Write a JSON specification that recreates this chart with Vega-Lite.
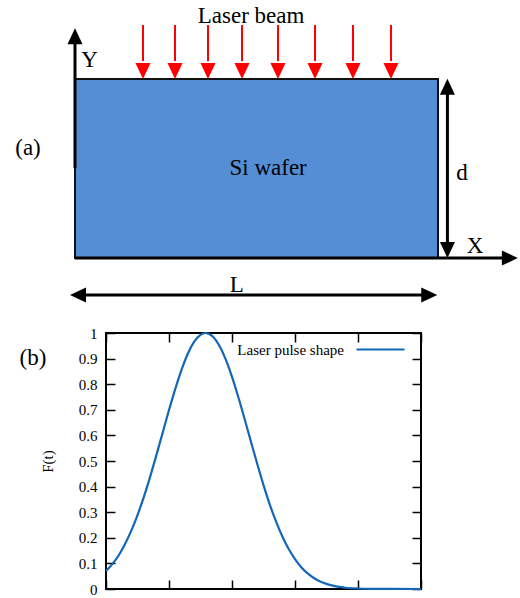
{
  "$schema": "https://vega.github.io/schema/vega-lite/v6.json",
  "width": 315,
  "height": 256,
  "autosize": {"type": "none"},
  "padding": {"left": 106, "top": 333, "right": 99, "bottom": 9},
  "background": "white",
  "config": {"font": "Liberation Serif, Times New Roman, serif", "view": {"stroke": "black", "strokeWidth": 2}},
  "datasets": {
    "wafer": [{"x0": 0, "x1": 10, "y0": 0, "y1": 5}],
    "blacklines": [
      {"x0": 0, "x1": 0, "y0": 2.51, "y1": 6.01},
      {"x0": 0, "x1": 11.85, "y0": 0, "y1": 0},
      {"x0": 10.26, "x1": 10.26, "y0": 0.36, "y1": 4.64},
      {"x0": 0.25, "x1": 9.61, "y0": -1.034, "y1": -1.034}
    ],
    "blackheads": [
      {"x": 0, "y": 6.42, "dir": "up"},
      {"x": 12.2, "y": 0, "dir": "right"},
      {"x": 10.26, "y": 5.01, "dir": "up"},
      {"x": 10.26, "y": 0, "dir": "down"},
      {"x": -0.138, "y": -1.034, "dir": "left"},
      {"x": 9.98, "y": -1.034, "dir": "right"}
    ],
    "redlines": [
      {"x": 1.873, "y0": 6.508, "y1": 5.5},
      {"x": 2.755, "y0": 6.508, "y1": 5.5},
      {"x": 3.664, "y0": 6.508, "y1": 5.5},
      {"x": 4.601, "y0": 6.508, "y1": 5.5},
      {"x": 5.592, "y0": 6.508, "y1": 5.5},
      {"x": 6.612, "y0": 6.508, "y1": 5.5},
      {"x": 7.658, "y0": 6.508, "y1": 5.5},
      {"x": 8.705, "y0": 6.508, "y1": 5.5}
    ],
    "redheads": [
      {"x": 1.873, "y": 5.0, "dir": "down"},
      {"x": 2.755, "y": 5.0, "dir": "down"},
      {"x": 3.664, "y": 5.0, "dir": "down"},
      {"x": 4.601, "y": 5.0, "dir": "down"},
      {"x": 5.592, "y": 5.0, "dir": "down"},
      {"x": 6.612, "y": 5.0, "dir": "down"},
      {"x": 7.658, "y": 5.0, "dir": "down"},
      {"x": 8.705, "y": 5.0, "dir": "down"}
    ],
    "labels": [
      {"label": "Laser beam", "x": 4.85, "y": 6.56},
      {"label": "Y", "x": 0.40, "y": 5.34},
      {"label": "(a)", "x": -1.295, "y": 2.88},
      {"label": "Si wafer", "x": 5.32, "y": 2.32},
      {"label": "d", "x": 10.66, "y": 2.18},
      {"label": "X", "x": 11.02, "y": 0.15},
      {"label": "L", "x": 4.46, "y": -0.95},
      {"label": "(b)", "x": -1.157, "y": -2.99}
    ],
    "pulse": [
      {"t": 0, "F": 0.070, "series": "Laser pulse shape"},
      {"t": 0.1, "F": 0.097, "series": "Laser pulse shape"},
      {"t": 0.2, "F": 0.131, "series": "Laser pulse shape"},
      {"t": 0.3, "F": 0.175, "series": "Laser pulse shape"},
      {"t": 0.4, "F": 0.227, "series": "Laser pulse shape"},
      {"t": 0.5, "F": 0.289, "series": "Laser pulse shape"},
      {"t": 0.6, "F": 0.359, "series": "Laser pulse shape"},
      {"t": 0.7, "F": 0.438, "series": "Laser pulse shape"},
      {"t": 0.8, "F": 0.523, "series": "Laser pulse shape"},
      {"t": 0.9, "F": 0.611, "series": "Laser pulse shape"},
      {"t": 1.0, "F": 0.699, "series": "Laser pulse shape"},
      {"t": 1.1, "F": 0.782, "series": "Laser pulse shape"},
      {"t": 1.2, "F": 0.857, "series": "Laser pulse shape"},
      {"t": 1.3, "F": 0.920, "series": "Laser pulse shape"},
      {"t": 1.4, "F": 0.966, "series": "Laser pulse shape"},
      {"t": 1.5, "F": 0.993, "series": "Laser pulse shape"},
      {"t": 1.58, "F": 1.0, "series": "Laser pulse shape"},
      {"t": 1.7, "F": 0.985, "series": "Laser pulse shape"},
      {"t": 1.8, "F": 0.950, "series": "Laser pulse shape"},
      {"t": 1.9, "F": 0.897, "series": "Laser pulse shape"},
      {"t": 2.0, "F": 0.829, "series": "Laser pulse shape"},
      {"t": 2.1, "F": 0.750, "series": "Laser pulse shape"},
      {"t": 2.2, "F": 0.664, "series": "Laser pulse shape"},
      {"t": 2.3, "F": 0.576, "series": "Laser pulse shape"},
      {"t": 2.4, "F": 0.489, "series": "Laser pulse shape"},
      {"t": 2.5, "F": 0.406, "series": "Laser pulse shape"},
      {"t": 2.6, "F": 0.330, "series": "Laser pulse shape"},
      {"t": 2.7, "F": 0.263, "series": "Laser pulse shape"},
      {"t": 2.8, "F": 0.205, "series": "Laser pulse shape"},
      {"t": 2.9, "F": 0.156, "series": "Laser pulse shape"},
      {"t": 3.0, "F": 0.117, "series": "Laser pulse shape"},
      {"t": 3.1, "F": 0.085, "series": "Laser pulse shape"},
      {"t": 3.2, "F": 0.061, "series": "Laser pulse shape"},
      {"t": 3.3, "F": 0.043, "series": "Laser pulse shape"},
      {"t": 3.4, "F": 0.029, "series": "Laser pulse shape"},
      {"t": 3.5, "F": 0.020, "series": "Laser pulse shape"},
      {"t": 3.6, "F": 0.013, "series": "Laser pulse shape"},
      {"t": 3.7, "F": 0.008, "series": "Laser pulse shape"},
      {"t": 3.8, "F": 0.005, "series": "Laser pulse shape"},
      {"t": 4.0, "F": 0.002, "series": "Laser pulse shape"},
      {"t": 4.2, "F": 0.0007, "series": "Laser pulse shape"},
      {"t": 4.5, "F": 0.0001, "series": "Laser pulse shape"},
      {"t": 5.0, "F": 0, "series": "Laser pulse shape"}
    ]
  },
  "layer": [
    {
      "layer": [
        {
          "data": {"name": "wafer"},
          "mark": {"type": "rect", "fill": "#558ed5", "stroke": "#111111", "strokeWidth": 2, "clip": false},
          "encoding": {
            "x": {"field": "x0", "type": "quantitative", "scale": {"domain": [0.854, 9.532], "nice": false, "zero": false}, "axis": null},
            "x2": {"field": "x1"},
            "y": {"field": "y0", "type": "quantitative", "scale": {"domain": [-9.246, -2.095], "nice": false, "zero": false}, "axis": null},
            "y2": {"field": "y1"}
          }
        },
        {
          "data": {"name": "blacklines"},
          "mark": {"type": "rule", "color": "black", "strokeWidth": 3, "clip": false},
          "encoding": {
            "x": {"field": "x0", "type": "quantitative", "scale": {"domain": [0.854, 9.532], "nice": false, "zero": false}, "axis": null},
            "x2": {"field": "x1"},
            "y": {"field": "y0", "type": "quantitative", "scale": {"domain": [-9.246, -2.095], "nice": false, "zero": false}, "axis": null},
            "y2": {"field": "y1"}
          }
        },
        {
          "data": {"name": "blackheads"},
          "mark": {"type": "point", "filled": true, "color": "black", "opacity": 1, "size": 256, "strokeWidth": 0, "clip": false},
          "encoding": {
            "x": {"field": "x", "type": "quantitative", "scale": {"domain": [0.854, 9.532], "nice": false, "zero": false}, "axis": null},
            "y": {"field": "y", "type": "quantitative", "scale": {"domain": [-9.246, -2.095], "nice": false, "zero": false}, "axis": null},
            "shape": {"field": "dir", "type": "nominal", "scale": {"domain": ["down", "up", "left", "right"], "range": ["M0,0L-0.94,-2L0.94,-2Z", "M0,0L-0.94,2L0.94,2Z", "M0,0L2,-0.94L2,0.94Z", "M0,0L-2,-0.94L-2,0.94Z"]}, "legend": null}
          }
        },
        {
          "data": {"name": "redlines"},
          "mark": {"type": "rule", "color": "#ff0000", "strokeWidth": 2, "clip": false},
          "encoding": {
            "x": {"field": "x", "type": "quantitative", "scale": {"domain": [0.854, 9.532], "nice": false, "zero": false}, "axis": null},
            "y": {"field": "y0", "type": "quantitative", "scale": {"domain": [-9.246, -2.095], "nice": false, "zero": false}, "axis": null},
            "y2": {"field": "y1"}
          }
        },
        {
          "data": {"name": "redheads"},
          "mark": {"type": "point", "filled": true, "color": "#ff0000", "opacity": 1, "size": 256, "strokeWidth": 0, "clip": false},
          "encoding": {
            "x": {"field": "x", "type": "quantitative", "scale": {"domain": [0.854, 9.532], "nice": false, "zero": false}, "axis": null},
            "y": {"field": "y", "type": "quantitative", "scale": {"domain": [-9.246, -2.095], "nice": false, "zero": false}, "axis": null},
            "shape": {"field": "dir", "type": "nominal", "scale": {"domain": ["down", "up", "left", "right"], "range": ["M0,0L-0.94,-2L0.94,-2Z", "M0,0L-0.94,2L0.94,2Z", "M0,0L2,-0.94L2,0.94Z", "M0,0L-2,-0.94L-2,0.94Z"]}, "legend": null}
          }
        },
        {
          "data": {"name": "labels"},
          "mark": {"type": "text", "font": "Liberation Serif, Times New Roman, serif", "fontSize": 23, "align": "center", "baseline": "alphabetic", "color": "black", "clip": false},
          "encoding": {
            "x": {"field": "x", "type": "quantitative", "scale": {"domain": [0.854, 9.532], "nice": false, "zero": false}, "axis": null},
            "y": {"field": "y", "type": "quantitative", "scale": {"domain": [-9.246, -2.095], "nice": false, "zero": false}, "axis": null},
            "text": {"field": "label", "type": "nominal"}
          }
        }
      ]
    },
    {
      "data": {"name": "pulse"},
      "layer": [
        {
          "mark": {"type": "line", "strokeWidth": 2.2, "interpolate": "monotone"},
          "encoding": {
            "x": {"field": "t", "type": "quantitative", "scale": {"domain": [0, 5], "nice": false, "zero": false},
              "axis": {"orient": "bottom", "values": [0, 1, 2, 3, 4, 5], "tickSize": -9, "tickColor": "black", "tickWidth": 1.5, "labels": false, "domain": false, "grid": false, "title": null}},
            "y": {"field": "F", "type": "quantitative", "scale": {"domain": [0, 1], "nice": false},
              "axis": {"orient": "left", "values": [0, 0.1, 0.2, 0.3, 0.4, 0.5, 0.6, 0.7, 0.8, 0.9, 1], "format": "~g", "tickSize": -9, "tickColor": "black", "tickWidth": 1.5, "labelPadding": 18, "labelFlush": false, "labelOverlap": false, "labelFont": "Liberation Serif, Times New Roman, serif", "labelFontSize": 15, "labelColor": "black", "domain": false, "grid": false, "title": "F(t)", "titleFont": "Liberation Serif, Times New Roman, serif", "titleFontSize": 15, "titleFontWeight": "normal", "titleColor": "black", "titlePadding": 23}},
            "color": {"field": "series", "type": "nominal", "scale": {"range": ["#1466b6"]},
              "legend": {"title": null, "orient": "none", "legendX": 249, "legendY": -9, "symbolType": "stroke", "symbolSize": 2304, "symbolStrokeWidth": 2.2, "labelAlign": "right", "labelOffset": -62, "labelFont": "Liberation Serif, Times New Roman, serif", "labelFontSize": 15, "labelColor": "black", "padding": 0}}
          }
        },
        {
          "mark": {"type": "line", "opacity": 0},
          "encoding": {
            "x": {"field": "t", "type": "quantitative", "scale": {"domain": [0, 5], "nice": false, "zero": false},
              "axis": {"orient": "top", "values": [0, 1, 2, 3, 4, 5], "tickSize": -9, "tickColor": "black", "tickWidth": 1.5, "labels": false, "domain": false, "grid": false, "title": null}},
            "y": {"field": "F", "type": "quantitative", "scale": {"domain": [0, 1], "nice": false},
              "axis": {"orient": "right", "values": [0, 0.1, 0.2, 0.3, 0.4, 0.5, 0.6, 0.7, 0.8, 0.9, 1], "tickSize": -9, "tickColor": "black", "tickWidth": 1.5, "labels": false, "domain": false, "grid": false, "title": null}}
          }
        }
      ],
      "resolve": {"axis": {"x": "independent", "y": "independent"}}
    }
  ],
  "resolve": {"scale": {"x": "independent", "y": "independent", "color": "independent", "shape": "independent"}}
}
